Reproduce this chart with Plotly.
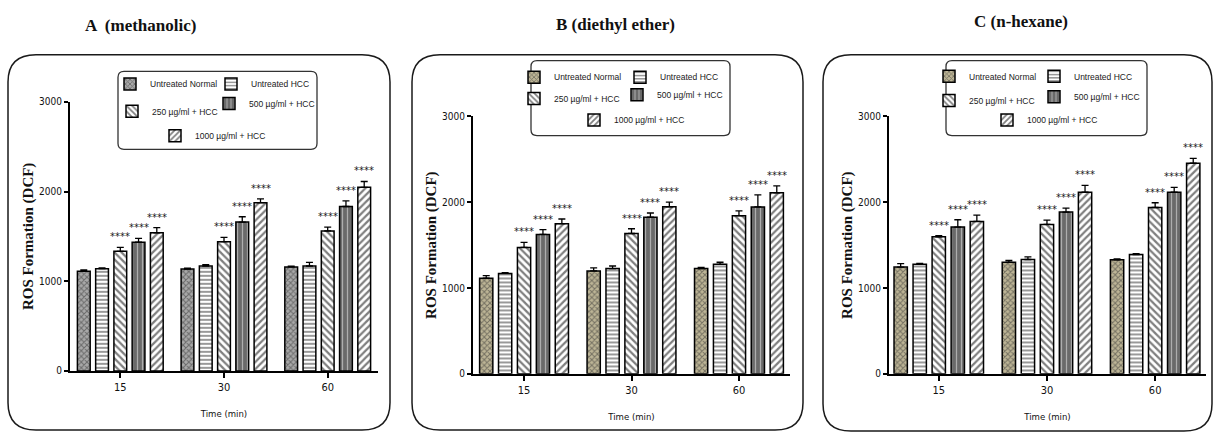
import plotly.graph_objects as go

# ---------------- data ----------------
times = ['15', '30', '60']
series_names = ['Untreated Normal', 'Untreated HCC', '250 µg/ml + HCC',
                '500 µg/ml + HCC', '1000 µg/ml + HCC']
panel_titles = ['A  (methanolic)', 'B (diethyl ether)', 'C (n-hexane)']
star_label = '****'

# Panel A (methanolic)
a_normal = [1110, 1135, 1159]
a_hcc = [1140, 1170, 1170]
a_250 = [1333, 1441, 1561]
a_500 = [1435, 1659, 1833]
a_1000 = [1540, 1876, 2047]
a_normal_err = [15, 10, 10]
a_hcc_err = [10, 15, 40]
a_250_err = [45, 48, 43]
a_500_err = [43, 60, 62]
a_1000_err = [58, 43, 65]

# Panel B (diethyl ether)
b_normal = [1114, 1200, 1227]
b_hcc = [1170, 1227, 1276]
b_250 = [1473, 1636, 1844]
b_500 = [1625, 1825, 1945]
b_1000 = [1750, 1947, 2110]
b_normal_err = [30, 35, 15]
b_hcc_err = [10, 30, 25]
b_250_err = [60, 55, 55]
b_500_err = [55, 50, 140]
b_1000_err = [55, 55, 80]

# Panel C (n-hexane)
c_normal = [1245, 1302, 1330]
c_hcc = [1276, 1333, 1390]
c_250 = [1598, 1742, 1939]
c_500 = [1711, 1886, 2118]
c_1000 = [1776, 2117, 2456]
c_normal_err = [40, 20, 10]
c_hcc_err = [10, 30, 10]
c_250_err = [12, 50, 55]
c_500_err = [85, 45, 55]
c_1000_err = [75, 80, 55]

panel_values = [
    [a_normal, a_hcc, a_250, a_500, a_1000],
    [b_normal, b_hcc, b_250, b_500, b_1000],
    [c_normal, c_hcc, c_250, c_500, c_1000],
]
panel_errors = [
    [a_normal_err, a_hcc_err, a_250_err, a_500_err, a_1000_err],
    [b_normal_err, b_hcc_err, b_250_err, b_500_err, b_1000_err],
    [c_normal_err, c_hcc_err, c_250_err, c_500_err, c_1000_err],
]
starred = [False, False, True, True, True]

# ---------------- layout helpers ----------------
W, H = 1216, 439


def px(x):
    return x / W


def py(y):
    return 1 - y / H


def rrect(x0, y0, x1, y1, r):
    return (f"M {px(x0 + r)},{py(y0)} L {px(x1 - r)},{py(y0)} "
            f"Q {px(x1)},{py(y0)} {px(x1)},{py(y0 + r)} "
            f"L {px(x1)},{py(y1 - r)} Q {px(x1)},{py(y1)} {px(x1 - r)},{py(y1)} "
            f"L {px(x0 + r)},{py(y1)} Q {px(x0)},{py(y1)} {px(x0)},{py(y1 - r)} "
            f"L {px(x0)},{py(y0 + r)} Q {px(x0)},{py(y0)} {px(x0 + r)},{py(y0)} Z")


NARROW = "Liberation Sans Narrow, DejaVu Sans Condensed, Arial Narrow, Liberation Sans, sans-serif"
SANS = "Liberation Sans, Arial, sans-serif"
SERIF = "Liberation Serif, Times New Roman, serif"

# plot areas (pixels): x0, x1, y(3000), y(0), x-range
plot_boxes = [
    dict(x0=70, x1=378, yt=98.3, yb=374.3, xr=[-0.485, 2.485]),
    dict(x0=473, x1=790, yt=113.3, yb=377.3, xr=[-0.475, 2.475]),
    dict(x0=889, x1=1206, yt=113.3, yb=377.3, xr=[-0.46, 2.47]),
]
outer_boxes = [(8, 50, 390, 435), (412, 50, 803, 435), (823, 50, 1212, 436)]
legend_boxes = [(118, 67, 317, 147), (531, 56, 730, 133), (946, 56, 1147, 133)]
# swatch centres for legend entries (pixels)
legend_pos = [
    [(138, 80), (239, 80), (140, 108), (237, 100), (183, 133)],
    [(542, 73), (648, 73), (542, 95), (645, 91), (602, 117)],
    [(957, 72), (1062, 72), (957, 97), (1062, 93), (1015, 117)],
]
title_pos = [(140, 20), (615, 19), (1021, 16)]

styles = [
    dict(shape='x', fg='#2e2e2e', size=4, solidity=0.45),
    dict(shape='-', bg='white', fg='black', size=4, solidity=0.4),
    dict(shape='\\', bg='white', fg='black', size=5, solidity=0.45),
    dict(shape='|', bg='#6a6a6a', fg='#f2f2f2', size=5, solidity=0.25),
    dict(shape='/', bg='white', fg='black', size=5, solidity=0.45),
]
normal_bg = ['#a9a9a9', '#bdb596', '#bdb596']

BARGAP = 0.12
slot = (1 - BARGAP) / len(series_names)

fig = go.Figure()
annotations = []
shapes = []
layout_axes = {}
legend_layouts = {}
leg_idx = 0

for p in range(3):
    sfx = '' if p == 0 else str(p + 1)
    xa, ya = 'x' + sfx, 'y' + sfx
    for s, name in enumerate(series_names):
        st = styles[s]
        bg = normal_bg[p] if s == 0 else st['bg']
        leg_idx += 1
        lname = 'legend' if leg_idx == 1 else f'legend{leg_idx}'
        fig.add_trace(go.Bar(
            x=times, y=panel_values[p][s], name=name,
            xaxis=xa, yaxis=ya, legend=lname,
            marker=dict(color=bg, line=dict(color='black', width=1.5),
                        pattern=dict(shape=st['shape'], fgcolor=st['fg'], bgcolor=bg,
                                     size=st['size'], solidity=st['solidity'],
                                     fillmode='overlay')),
            error_y=dict(type='data', array=panel_errors[p][s],
                         arrayminus=[0] * len(times), symmetric=False,
                         color='black', thickness=1.3, width=3.5),
            showlegend=True,
        ))
        lx, ly = legend_pos[p][s]
        legend_layouts[lname] = dict(
            x=px(lx - 28), y=py(ly), xanchor='left', yanchor='middle',
            orientation='h', bgcolor='rgba(0,0,0,0)', borderwidth=0,
            font=dict(family=SANS, size=8.5, color='#1a1a1a'),
        )
        if starred[s]:
            for i, t in enumerate(times):
                off = -(1 - BARGAP) / 2 + (s + 0.5) * slot
                annotations.append(dict(
                    x=i + off, y=panel_values[p][s][i] + panel_errors[p][s][i],
                    xref=xa, yref=ya, text=star_label, showarrow=False,
                    yanchor='bottom', yshift=3,
                    font=dict(family='DejaVu Sans', size=10, color='#1a1a1a')))

    b = plot_boxes[p]
    layout_axes['xaxis' + sfx] = dict(
        domain=[px(b['x0']), px(b['x1'])], anchor=ya, type='category',
        range=b['xr'], showline=True, linecolor='black', linewidth=2.2,
        ticks='outside', ticklen=5, tickwidth=1.5, tickcolor='black',
        showgrid=False, zeroline=False, fixedrange=True,
        tickfont=dict(family=NARROW, size=11, color='#111'),
        title=dict(text='Time (min)', standoff=17,
                   font=dict(family=NARROW, size=9.5, color='#111')),
    )
    layout_axes['yaxis' + sfx] = dict(
        domain=[py(b['yb']), py(b['yt'])], anchor=xa, range=[0, 3000],
        tickvals=[0, 1000, 2000, 3000], showline=True, linecolor='black',
        linewidth=2, ticks='outside', ticklen=4, tickwidth=1.5, tickcolor='black',
        showgrid=False, zeroline=False, fixedrange=True,
        tickfont=dict(family=NARROW, size=10, color='#111'),
        title=dict(text='ROS Formation (DCF)', standoff=2,
                   font=dict(family=SERIF, size=15, color='#111', weight='bold')),
    )
    ox0, oy0, ox1, oy1 = outer_boxes[p]
    shapes.append(dict(type='path', xref='paper', yref='paper',
                       path=rrect(ox0, oy0, ox1, oy1, 28),
                       line=dict(color='#1a1a1a', width=1.5), layer='below'))
    lx0, ly0, lx1, ly1 = legend_boxes[p]
    shapes.append(dict(type='path', xref='paper', yref='paper',
                       path=rrect(lx0, ly0, lx1, ly1, 6),
                       line=dict(color='#333', width=1.3), layer='below'))
    tx, ty = title_pos[p]
    annotations.append(dict(x=px(tx), y=py(ty), xref='paper', yref='paper',
                            text=panel_titles[p], showarrow=False,
                            xanchor='center', yanchor='middle',
                            font=dict(family=SERIF, size=17, color='#111', weight='bold')))

fig.update_layout(
    width=W, height=H, autosize=False,
    margin=dict(l=0, r=0, t=0, b=0),
    paper_bgcolor='white', plot_bgcolor='white',
    barmode='group', bargap=BARGAP, bargroupgap=0.3,
    annotations=annotations, shapes=shapes,
    **layout_axes, **legend_layouts,
)

fig.write_html("out.html", config={'displayModeBar': False},
               post_script="document.body.style.margin='0';document.body.style.overflow='hidden';")
